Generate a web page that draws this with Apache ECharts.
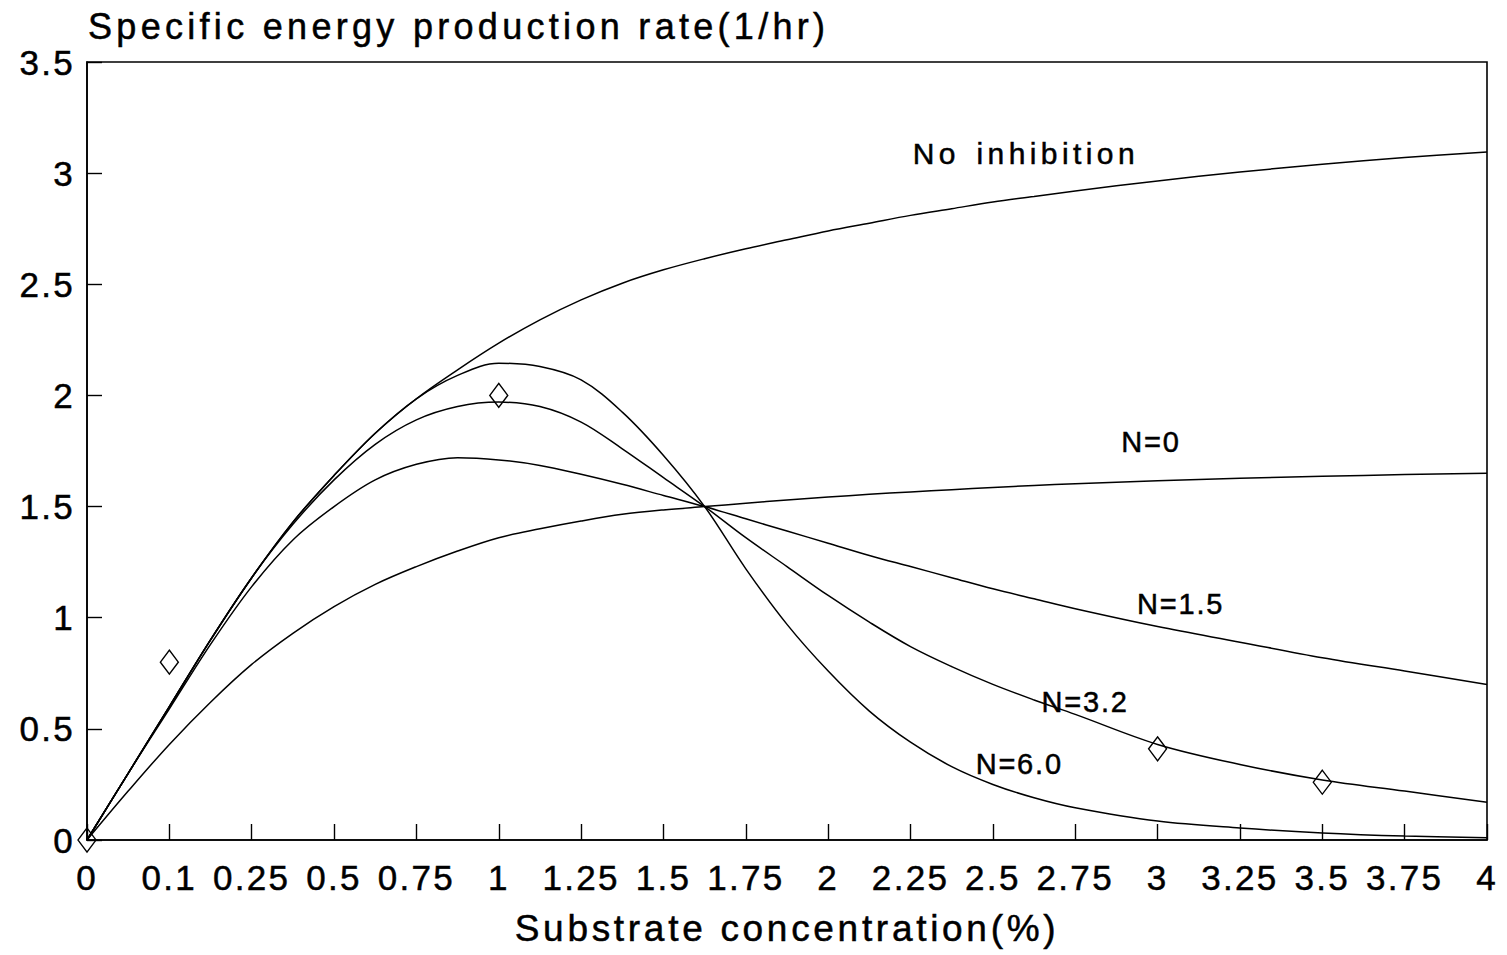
<!DOCTYPE html>
<html>
<head>
<meta charset="utf-8">
<title>Specific energy production rate</title>
<script src="https://cdn.jsdelivr.net/npm/echarts@6/dist/echarts.min.js"></script>
<style>
  html, body { margin: 0; padding: 0; background: #fff; }
  #chart { width: 1507px; height: 955px; }
  /* wide, typewriter-like lettering, slightly heavy strokes */
  #chart svg text { letter-spacing: 0.08em; stroke: #000; stroke-width: 0.5px; }
  #chart svg text[style*="36px"] { letter-spacing: 4.3px; }                  /* title */
  #chart svg text[style*="35px"] { letter-spacing: 2.3px; }                  /* tick labels */
  #chart svg text[style*="37px"] { letter-spacing: 3.7px; }                  /* axis name */
  #chart svg text[style*="30px"] { letter-spacing: 4.4px; word-spacing: 4px; } /* "No inhibition" */
  #chart svg text[style*="29px"] { letter-spacing: 1.8px; }                  /* N= captions */
</style>
</head>
<body>
<div id="chart"></div>
<script>
// Tick labels of the substrate axis (ticks are evenly spaced, values are not)
const tickLabels = ['0', '0.1', '0.25', '0.5', '0.75', '1', '1.25', '1.5', '1.75',
                    '2', '2.25', '2.5', '2.75', '3', '3.25', '3.5', '3.75', '4'];
const tickValues = tickLabels.map(Number);

// Substrate concentration (%) at which the model curves are sampled
const conc = [0, 0.05, 0.1, 0.175, 0.25, 0.375, 0.5, 0.625, 0.75, 0.875, 1, 1.125,
              1.25, 1.375, 1.5, 1.625, 1.75, 1.875, 2, 2.125, 2.25, 2.375, 2.5, 2.625,
              2.75, 3, 3.25, 3.5, 3.75, 4];

// Specific energy production rate (1/hr)
const noInhibition = [0, 0.30, 0.60, 0.90, 1.18, 1.43, 1.64, 1.83, 1.985, 2.115, 2.235, 2.34,
                      2.43, 2.505, 2.565, 2.615, 2.66, 2.70, 2.74, 2.775, 2.81, 2.84, 2.87, 2.895,
                      2.92, 2.965, 3.005, 3.04, 3.07, 3.095];
const rateN0 = [0, 0.22, 0.43, 0.62, 0.79, 0.93, 1.05, 1.15, 1.23, 1.30, 1.36, 1.40,
                1.435, 1.465, 1.485, 1.50, 1.515, 1.53, 1.543, 1.555, 1.566, 1.576, 1.586, 1.595,
                1.603, 1.616, 1.627, 1.636, 1.644, 1.65];
const rateN15 = [0, 0.30, 0.59, 0.88, 1.14, 1.35, 1.50, 1.62, 1.69, 1.72, 1.71, 1.685,
                 1.645, 1.60, 1.55, 1.50, 1.445, 1.39, 1.335, 1.28, 1.23, 1.18, 1.13, 1.085,
                 1.04, 0.96, 0.89, 0.82, 0.76, 0.70];
const rateN32 = [0, 0.30, 0.60, 0.90, 1.18, 1.42, 1.62, 1.78, 1.89, 1.95, 1.97, 1.95,
                 1.88, 1.76, 1.63, 1.50, 1.36, 1.23, 1.10, 0.98, 0.87, 0.78, 0.70, 0.63,
                 0.565, 0.43, 0.34, 0.27, 0.22, 0.17];
const rateN60 = [0, 0.30, 0.60, 0.90, 1.18, 1.43, 1.64, 1.83, 1.985, 2.09, 2.145, 2.13,
                 2.07, 1.925, 1.73, 1.50, 1.22, 0.97, 0.76, 0.58, 0.44, 0.33, 0.25, 0.19,
                 0.145, 0.085, 0.054, 0.032, 0.018, 0.01];

// Measured points
const measuredConc = [0, 0.1, 1, 3, 3.5];
const measuredRate = [0, 0.80, 2.00, 0.41, 0.26];

const FONT = '"Liberation Sans", Arial, Helvetica, sans-serif';

// Map a concentration onto the evenly spaced tick positions of the axis
function toPos(v) {
  for (let i = 0; i < tickValues.length - 1; i++) {
    if (v <= tickValues[i + 1]) {
      return i + (v - tickValues[i]) / (tickValues[i + 1] - tickValues[i]);
    }
  }
  return tickValues.length - 1;
}

function curve(name, rates) {
  return {
    type: 'line',
    name: name,
    data: conc.map((c, i) => [toPos(c), rates[i]]),
    smooth: 0.35,
    symbol: 'none',
    silent: true,
    lineStyle: { color: '#000', width: 1.5 },
    z: 2
  };
}

// Curve captions, anchored in data units (concentration, rate)
const captions = [
  { text: 'No inhibition', at: [2.60, 3.09], size: 30 },
  { text: 'N=0', at: [2.98, 1.79], size: 29 },
  { text: 'N=1.5', at: [3.07, 1.06], size: 29 },
  { text: 'N=3.2', at: [2.78, 0.62], size: 29 },
  { text: 'N=6.0', at: [2.58, 0.34], size: 29 }
];

const chart = echarts.init(document.getElementById('chart'), null, { renderer: 'svg' });

const option = {
  backgroundColor: '#fff',
  animation: false,
  textStyle: { fontFamily: FONT, color: '#000' },
  title: {
    text: 'Specific energy production rate(1/hr)',
    left: 88,
    top: 8,
    padding: 0,
    textStyle: { fontSize: 36, fontWeight: 'normal', color: '#000', fontFamily: FONT }
  },
  grid: {
    left: 87, right: 20, top: 62, bottom: 115,
    show: true, borderColor: '#000', borderWidth: 1.6,
    outerBoundsMode: 'none'
  },
  xAxis: {
    type: 'value',
    min: 0,
    max: tickLabels.length - 1,
    interval: 1,
    name: 'Substrate concentration(%)',
    nameLocation: 'middle',
    nameGap: 70,
    nameTextStyle: { fontSize: 37, color: '#000', fontFamily: FONT },
    axisLine: { lineStyle: { color: '#000', width: 1.6 } },
    axisTick: { inside: true, length: 16, lineStyle: { color: '#000', width: 1.4 } },
    axisLabel: {
      fontSize: 35, color: '#000', fontFamily: FONT, margin: 20,
      showMinLabel: true, showMaxLabel: true, hideOverlap: false,
      formatter: v => tickLabels[Math.round(v)]
    },
    splitLine: { show: false }
  },
  yAxis: {
    type: 'value',
    min: 0,
    max: 3.5,
    interval: 0.5,
    axisLine: { show: true, lineStyle: { color: '#000', width: 1.6 } },
    axisTick: { show: true, inside: true, length: 15, lineStyle: { color: '#000', width: 1.4 } },
    axisLabel: { fontSize: 35, color: '#000', fontFamily: FONT, margin: 12, hideOverlap: false },
    splitLine: { show: false }
  },
  series: [
    curve('No inhibition', noInhibition),
    curve('N=0', rateN0),
    curve('N=1.5', rateN15),
    curve('N=3.2', rateN32),
    curve('N=6.0', rateN60),
    {
      type: 'scatter',
      name: 'Measured',
      data: measuredConc.map((c, i) => [toPos(c), measuredRate[i]]),
      symbol: 'diamond',
      symbolSize: [18, 24],
      silent: true,
      itemStyle: { color: 'rgba(0,0,0,0)', borderColor: '#000', borderWidth: 1.4, opacity: 1 },
      z: 5
    }
  ]
};

chart.setOption(option);

chart.setOption({
  graphic: captions.map(c => {
    const p = chart.convertToPixel({ gridIndex: 0 }, [toPos(c.at[0]), c.at[1]]);
    return {
      type: 'text',
      x: p[0],
      y: p[1],
      silent: true,
      style: {
        text: c.text,
        fontSize: c.size,
        fontFamily: FONT,
        fill: '#000',
        align: 'center',
        verticalAlign: 'middle'
      }
    };
  })
});
</script>
</body>
</html>
